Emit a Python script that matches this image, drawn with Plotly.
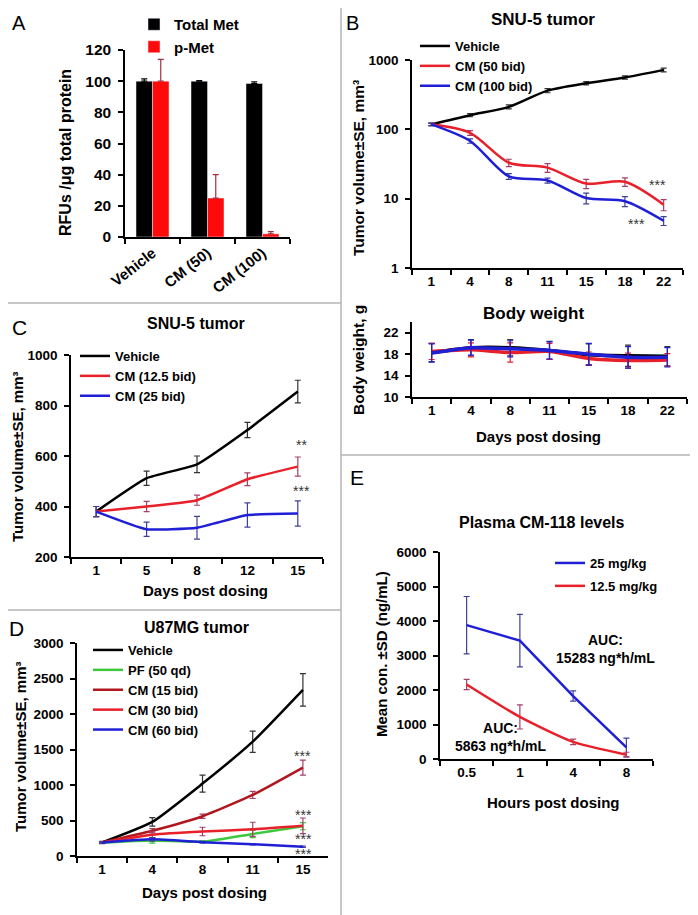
import plotly.graph_objects as go

# The page body has an 8px default margin; the figure is sized and laid out to compensate.
PAGE_OFF = 8
W, H = 698 - PAGE_OFF, 915 - PAGE_OFF
def fx(p): return (p - PAGE_OFF) / W
def fy(p): return 1 - (p - PAGE_OFF) / H

FONT = "Liberation Sans, Arial, sans-serif"

# ---------------- Panel A ----------------
a_cats = ["Vehicle", "CM (50)", "CM (100)"]
a_total = [100, 100, 98.5]
a_total_err = [1.5, 0.3, 1.0]
a_pmet = [100, 25, 2]
a_pmet_err = [14, 15, 1.5]

# ---------------- Panel B ----------------
b_days = ["1", "4", "8", "11", "15", "18", "22"]
b_vehicle = [118, 160, 211, 362, 462, 560, 720]
b_vehicle_err = [5, 8, 14, 25, 25, 30, 45]
b_cm50 = [118, 89, 33, 28, 16.5, 17.5, 8.2]
b_cm50_err = [5, 7, 4, 4, 2.5, 2.5, 1.5]
b_cm100 = [118, 68, 21, 18.3, 10.2, 9.2, 4.8]
b_cm100_err = [5, 5, 2, 1.5, 1.8, 1.5, 0.7]

bw_vehicle = [18.3, 19.2, 19.2, 18.7, 17.9, 17.7, 17.6]
bw_vehicle_err = [1.7, 1.5, 1.5, 1.7, 2.0, 2.0, 1.8]
bw_cm50 = [18.5, 18.8, 18.3, 18.5, 17.2, 16.8, 16.9]
bw_cm50_err = [1.5, 1.3, 1.8, 1.5, 1.2, 1.4, 1.2]
bw_cm100 = [18.2, 19.2, 19.0, 18.7, 18.0, 17.4, 17.4]
bw_cm100_err = [1.7, 1.4, 1.5, 1.6, 2.0, 2.0, 1.8]

# ---------------- Panel C ----------------
c_days = ["1", "5", "8", "12", "15"]
c_vehicle = [380, 512, 567, 703, 855]
c_vehicle_err = [20, 28, 33, 30, 45]
c_cm125 = [380, 400, 425, 508, 558]
c_cm125_err = [20, 20, 20, 25, 38]
c_cm25 = [380, 310, 316, 366, 372]
c_cm25_err = [20, 28, 45, 48, 50]

# ---------------- Panel D ----------------
d_days = ["1", "4", "8", "11", "15"]
d_vehicle = [190, 480, 1020, 1610, 2340]
d_vehicle_err = [15, 60, 120, 150, 230]
d_pf = [190, 220, 200, 310, 420]
d_pf_err = [10, 40, 15, 50, 50]
d_cm15 = [190, 355, 560, 860, 1245]
d_cm15_err = [10, 30, 30, 50, 105]
d_cm30 = [190, 300, 345, 375, 425]
d_cm30_err = [10, 40, 60, 100, 110]
d_cm60 = [190, 235, 195, 165, 130]
d_cm60_err = [10, 25, 10, 10, 10]

# ---------------- Panel E ----------------
e_hours = ["0.5", "1", "4", "8"]
e_25 = [3880, 3430, 1825, 335]
e_25_err = [830, 760, 150, 270]
e_125 = [2160, 1220, 495, 125]
e_125_err = [150, 350, 80, 70]

BLACK = "#000000"
RED = "#e8202a"
BLUE = "#1f1fd6"
DKRED = "#b0171f"
GREEN = "#3cc83c"
ERR_RED = "#a5406a"
ERR_BLUE = "#40409a"
ERR_BLACK = "#333333"

fig = go.Figure()

def eb(arr, color, width=3):
    return dict(type="data", array=arr, visible=True, color=color, thickness=1.2, width=width)

# Panel A bars
fig.add_trace(go.Bar(x=a_cats, y=a_total, name="Total Met", marker_color=BLACK,
                     error_y=dict(type="data", array=a_total_err, arrayminus=[0, 0, 0], symmetric=False,
                                  color=BLACK, thickness=1.2, width=3),
                     xaxis="x", yaxis="y", legend="legend"))
fig.add_trace(go.Bar(x=a_cats, y=a_pmet, name="p-Met", marker_color="#ff0a0a",
                     error_y=dict(type="data", array=a_pmet_err, arrayminus=[0, 0, 0], symmetric=False,
                                  color="#a03040", thickness=1.2, width=3),
                     xaxis="x", yaxis="y", legend="legend"))

# Panel B top
for name, ys, err, col, ecol in [("Vehicle", b_vehicle, b_vehicle_err, BLACK, ERR_BLACK),
                                 ("CM (50 bid)", b_cm50, b_cm50_err, RED, ERR_RED),
                                 ("CM (100 bid)", b_cm100, b_cm100_err, BLUE, ERR_BLUE)]:
    fig.add_trace(go.Scatter(x=b_days, y=ys, name=name, mode="lines",
                             line=dict(color=col, width=2.5, shape="spline", smoothing=0.8),
                             error_y=eb(err, ecol), xaxis="x2", yaxis="y2", legend="legend2"))

# Panel B bottom (body weight)
for name, ys, err, col in [("Vehicle", bw_vehicle, bw_vehicle_err, BLACK),
                           ("CM (50 bid)", bw_cm50, bw_cm50_err, RED),
                           ("CM (100 bid)", bw_cm100, bw_cm100_err, BLUE)]:
    fig.add_trace(go.Scatter(x=b_days, y=ys, name=name, mode="lines", showlegend=False,
                             line=dict(color=col, width=3.5, shape="spline", smoothing=0.6),
                             error_y=eb(err, col if col != BLACK else ERR_BLACK), xaxis="x3", yaxis="y3"))

# Panel C
for name, ys, err, col, ecol in [("Vehicle", c_vehicle, c_vehicle_err, BLACK, ERR_BLACK),
                                 ("CM (12.5 bid)", c_cm125, c_cm125_err, RED, ERR_RED),
                                 ("CM (25 bid)", c_cm25, c_cm25_err, BLUE, ERR_BLUE)]:
    fig.add_trace(go.Scatter(x=c_days, y=ys, name=name, mode="lines",
                             line=dict(color=col, width=2.5, shape="spline", smoothing=0.4),
                             error_y=eb(err, ecol), xaxis="x4", yaxis="y4", legend="legend3"))

# Panel D
for name, ys, err, col, ecol in [("Vehicle", d_vehicle, d_vehicle_err, BLACK, ERR_BLACK),
                                 ("PF (50 qd)", d_pf, d_pf_err, GREEN, GREEN),
                                 ("CM (15 bid)", d_cm15, d_cm15_err, DKRED, ERR_RED),
                                 ("CM (30 bid)", d_cm30, d_cm30_err, RED, ERR_RED),
                                 ("CM (60 bid)", d_cm60, d_cm60_err, BLUE, ERR_BLUE)]:
    fig.add_trace(go.Scatter(x=d_days, y=ys, name=name, mode="lines",
                             line=dict(color=col, width=2.5, shape="spline", smoothing=0.5),
                             error_y=eb(err, ecol), xaxis="x5", yaxis="y5", legend="legend4"))

# Panel E
fig.add_trace(go.Scatter(x=e_hours, y=e_25, name="25 mg/kg", mode="lines", legendgroup="g1",
                         line=dict(color=BLUE, width=2.5),
                         error_y=eb(e_25_err, ERR_BLUE), xaxis="x6", yaxis="y6", legend="legend5"))
fig.add_trace(go.Scatter(x=e_hours, y=e_125, name="12.5 mg/kg", mode="lines", legendgroup="g2",
                         line=dict(color=RED, width=2.5, shape="spline", smoothing=0.6),
                         error_y=eb(e_125_err, ERR_RED), xaxis="x6", yaxis="y6", legend="legend5"))

def tf(size=13.5):
    return dict(family=FONT, size=size, color="black", weight="bold")

def xax(x0, x1, anchor, n, size=13.5):
    return dict(domain=[fx(x0), fx(x1)], anchor=anchor, type="category", range=[-0.5, n - 0.5],
                showline=True, linecolor="black", linewidth=1.5, ticks="outside", ticklen=5,
                tickwidth=1.5, tickcolor="black", tickson="boundaries", showgrid=False,
                zeroline=False, tickfont=tf(size), fixedrange=True)

def yax(y_bottom, y_top, anchor, rng, size=13.5, **kw):
    d = dict(domain=[fy(y_bottom), fy(y_top)], anchor=anchor, range=rng,
             showline=True, linecolor="black", linewidth=1.5, ticks="outside", ticklen=5,
             tickwidth=1.5, tickcolor="black", showgrid=False, zeroline=False,
             tickfont=tf(size), ticklabelstandoff=4, fixedrange=True)
    d.update(kw)
    return d

layout = dict(
    width=W, height=H, margin=dict(l=0, r=0, t=0, b=0, autoexpand=False),
    paper_bgcolor="white", plot_bgcolor="white",
    font=dict(family=FONT, color="black"),
    barmode="group", bargap=0.4, bargroupgap=0.0,
    xaxis=dict(xax(125, 290, "y", 3, size=15), tickangle=-38),
    yaxis=yax(237, 50, "x", [0, 120], size=15.5, dtick=20),
    xaxis2=xax(412, 683, "y2", 7),
    yaxis2=yax(268, 60, "x2", [0, 3], type="log", tickvals=[1, 10, 100, 1000],
               ticktext=["1", "10", "100", "1000"]),
    xaxis3=xax(412, 687, "y3", 7),
    yaxis3=yax(397, 322, "x3", [10, 24], tickvals=[10, 14, 18, 22]),
    xaxis4=xax(71, 323, "y4", 5),
    yaxis4=yax(557, 355, "x4", [200, 1000], dtick=200),
    xaxis5=xax(77, 328, "y5", 5),
    yaxis5=yax(856, 643, "x5", [0, 3000], dtick=500),
    xaxis6=xax(440, 653, "y6", 4),
    yaxis6=yax(759, 552, "x6", [0, 6000], dtick=1000),
)

def leg(x, y, size=13, **kw):
    d = dict(x=fx(x), y=fy(y), xanchor="left", yanchor="top", bgcolor="rgba(0,0,0,0)",
             font=dict(family=FONT, size=size, color="black", weight="bold"),
             borderwidth=0, tracegroupgap=0)
    d.update(kw)
    return d

layout["legend"] = leg(134, 8, size=15)
layout["legend2"] = leg(415, 31)
layout["legend3"] = leg(75, 341)
layout["legend4"] = leg(88, 635)
layout["legend5"] = leg(550, 548, tracegroupgap=3)

fig.update_layout(**layout)

ann = []
def text(x, y, s, size=13, bold=True, angle=0, color="black", xanchor="center"):
    ann.append(dict(x=fx(x), y=fy(y), xref="paper", yref="paper", text=s, showarrow=False,
                    textangle=angle, xanchor=xanchor, yanchor="middle",
                    font=dict(family=FONT, size=size, color=color, weight="bold" if bold else "normal")))

# panel letters
text(19, 23, "A", size=20, bold=False)
text(352, 23, "B", size=20, bold=False)
text(19, 327, "C", size=21, bold=False)
text(16, 628, "D", size=21, bold=False)
text(357, 478, "E", size=21, bold=False)

# titles
text(543, 19, "SNU-5 tumor", size=17)
text(533, 313, "Body weight", size=17)
text(196, 323, "SNU-5 tumor", size=16)
text(196, 627, "U87MG tumor", size=16)
text(542, 522, "Plasma CM-118 levels", size=16)

# axis titles
text(65, 153, "RFUs /μg total protein", size=16, angle=-90)
text(358, 168, "Tumor volume±SE, mm³", size=15.5, angle=-90)
text(358, 360, "Body weight, g", size=15.5, angle=-90)
text(17, 457, "Tumor volume±SE, mm³", size=15, angle=-90)
text(20, 747, "Tumor volume±SE, mm³", size=15, angle=-90)
text(381, 654, "Mean con. ±SD (ng/mL)", size=15, angle=-90)
text(538, 436, "Days post dosing", size=15)
text(205, 590, "Days post dosing", size=15)
text(204, 892, "Days post dosing", size=15)
text(553, 802, "Hours post dosing", size=15)

# AUC
text(605, 649, "AUC:<br>15283 ng*h/mL", size=14)
text(500, 737, "AUC:<br>5863 ng*h/mL", size=14)

# significance stars
STAR = "#333333"
text(657, 185, "***", size=14, bold=False, color=STAR)
text(636, 224, "***", size=14, bold=False, color=STAR)
text(301, 445, "**", size=14, bold=False, color=STAR)
text(301, 491, "***", size=14, bold=False, color=STAR)
text(302, 756, "***", size=14, bold=False, color=STAR)
text(303, 815, "***", size=14, bold=False, color=STAR)
text(303, 839, "***", size=14, bold=False, color=STAR)
text(303, 854, "***", size=14, bold=False, color=STAR)

fig.update_layout(annotations=ann)

# panel separators
SEP = "#b4b4b4"
shapes = [
    dict(type="line", xref="paper", yref="paper", x0=fx(341), x1=fx(341), y0=0, y1=1,
         line=dict(color=SEP, width=1.5)),
    dict(type="line", xref="paper", yref="paper", x0=0, x1=fx(341), y0=fy(303), y1=fy(303),
         line=dict(color=SEP, width=1.5)),
    dict(type="line", xref="paper", yref="paper", x0=0, x1=fx(341), y0=fy(610), y1=fy(610),
         line=dict(color=SEP, width=1.5)),
    dict(type="line", xref="paper", yref="paper", x0=fx(341), x1=1, y0=fy(455), y1=fy(455),
         line=dict(color=SEP, width=1.5)),
]
fig.update_layout(shapes=shapes)

fig.write_html("out.html")
